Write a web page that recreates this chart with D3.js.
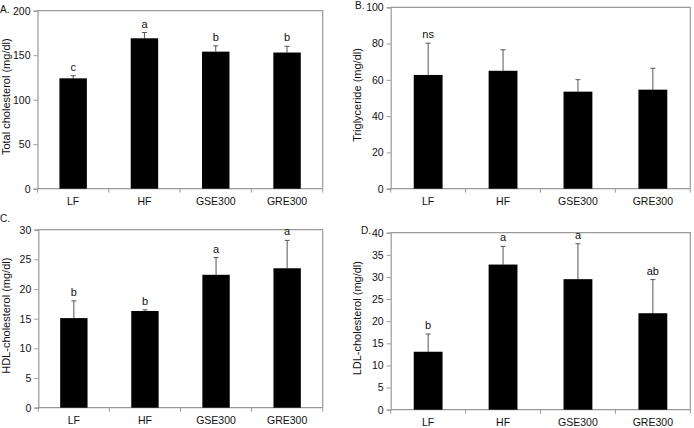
<!DOCTYPE html>
<html>
<head>
<meta charset="utf-8">
<script src="https://cdn.jsdelivr.net/npm/d3@7"></script>
<style>
  html, body { margin: 0; padding: 0; background: #fff; }
  svg { display: block; font-family: "Liberation Sans", Arial, sans-serif; }
</style>
</head>
<body>
<svg id="chart" width="694" height="428"></svg>
<script>
// ---- data ----
const categories = ["LF", "HF", "GSE300", "GRE300"];

const totalChol    = [124, 169, 154, 153];
const totalCholErr = [3, 6.5, 6.5, 7];
const totalCholSig = ["c", "a", "b", "b"];
const totalCholTicks = [0, 50, 100, 150, 200];

const trig    = [62.7, 65, 53.5, 54.6];
const trigErr = [17.5, 11.6, 6.6, 11.8];
const trigSig = ["ns", "", "", ""];
const trigTicks = [0, 20, 40, 60, 80, 100];

const hdl    = [15.1, 16.3, 22.4, 23.5];
const hdlErr = [2.9, 0.2, 2.9, 4.7];
const hdlSig = ["b", "b", "a", "a"];
const hdlTicks = [0, 5, 10, 15, 20, 25, 30];

const ldl    = [13.1, 32.8, 29.5, 21.8];
const ldlErr = [4, 4.1, 8, 7.6];
const ldlSig = ["b", "a", "a", "ab"];
const ldlTicks = [0, 5, 10, 15, 20, 25, 30, 35, 40];

// ---- layout ----
const panels = [
  { tag: "A.", title: "Total cholesterol (mg/dl)", values: totalChol, errs: totalCholErr, sig: totalCholSig, ticks: totalCholTicks,
    x0: 37.5, x1: 322.7, yTop: 10.7, yBot: 188.7, tagX: 0, tagY: 13, titleX: 9.5 },
  { tag: "B.", title: "Triglyceride (mg/dl)", values: trig, errs: trigErr, sig: trigSig, ticks: trigTicks,
    x0: 390.7, x1: 690.3, yTop: 7.3, yBot: 188.7, tagX: 355, tagY: 9, titleX: 361 },
  { tag: "C.", title: "HDL-cholesterol (mg/dl)", values: hdl, errs: hdlErr, sig: hdlSig, ticks: hdlTicks,
    x0: 38.3, x1: 322.7, yTop: 229.7, yBot: 407.7, tagX: 0, tagY: 222, titleX: 9.5 },
  { tag: "D.", title: "LDL-cholesterol (mg/dl)", values: ldl, errs: ldlErr, sig: ldlSig, ticks: ldlTicks,
    x0: 390.7, x1: 690.3, yTop: 232.7, yBot: 409.7, tagX: 361, tagY: 234, titleX: 361 }
];

const svg = d3.select("#chart");
const gray = "#9a9a9a";

panels.forEach(p => {
  const g = svg.append("g");
  const x = d3.scaleBand().domain(categories).range([p.x0, p.x1]).paddingInner(0.615).paddingOuter(0.3075);
  const y = d3.scaleLinear().domain([0, d3.max(p.ticks)]).range([p.yBot, p.yTop]);

  // frame (top, right)
  g.append("path")
    .attr("d", `M${p.x0},${p.yTop}H${p.x1}V${p.yBot}`)
    .attr("fill", "none").attr("stroke", gray).attr("stroke-width", 1.2);

  // y axis
  const yAxis = d3.axisLeft(y).tickValues(p.ticks).tickSize(4).tickPadding(3).tickFormat(d3.format("d"));
  const ya = g.append("g").attr("transform", `translate(${p.x0},0)`).call(yAxis);
  ya.select(".domain").attr("stroke", gray).attr("stroke-width", 1.2);
  ya.selectAll(".tick line").attr("stroke", gray);
  ya.selectAll(".tick text").attr("fill", "#111").style("font-size", "10.5px")
    .style("font-family", "'Liberation Sans', Arial, sans-serif");

  // x axis with ticks at band boundaries
  const xa = g.append("g").attr("transform", `translate(0,${p.yBot})`);
  xa.append("line").attr("x1", p.x0).attr("x2", p.x1).attr("y1", 0).attr("y2", 0)
    .attr("stroke", gray).attr("stroke-width", 1.2);
  const step = x.step();
  const bounds = d3.range(categories.length + 1).map(i => p.x0 + i * step);
  xa.selectAll("line.bt").data(bounds).join("line").attr("class", "bt")
    .attr("x1", d => d).attr("x2", d => d).attr("y1", 0).attr("y2", 4)
    .attr("stroke", gray);
  xa.selectAll("text").data(categories).join("text")
    .attr("x", d => x(d) + x.bandwidth() / 2).attr("y", 16)
    .attr("text-anchor", "middle").attr("fill", "#111").style("font-size", "10.5px")
    .text(d => d);

  const data = categories.map((c, i) => ({ c, v: p.values[i], e: p.errs[i], s: p.sig[i] }));

  // error bars (upper only)
  g.selectAll("line.eb").data(data).join("line").attr("class", "eb")
    .attr("x1", d => x(d.c) + x.bandwidth() / 2).attr("x2", d => x(d.c) + x.bandwidth() / 2)
    .attr("y1", d => y(d.v)).attr("y2", d => y(d.v + d.e))
    .attr("stroke", "#555").attr("stroke-width", 1);
  g.selectAll("line.cap").data(data).join("line").attr("class", "cap")
    .attr("x1", d => x(d.c) + x.bandwidth() / 2 - 2.5).attr("x2", d => x(d.c) + x.bandwidth() / 2 + 2.5)
    .attr("y1", d => y(d.v + d.e)).attr("y2", d => y(d.v + d.e))
    .attr("stroke", "#555").attr("stroke-width", 1);

  // bars
  g.selectAll("rect.bar").data(data).join("rect").attr("class", "bar")
    .attr("x", d => x(d.c)).attr("width", x.bandwidth())
    .attr("y", d => y(d.v)).attr("height", d => y(0) - y(d.v))
    .attr("fill", "#000");

  // significance letters
  g.selectAll("text.sig").data(data).join("text").attr("class", "sig")
    .attr("x", d => x(d.c) + x.bandwidth() / 2).attr("y", d => y(d.v + d.e) - 5)
    .attr("text-anchor", "middle").attr("fill", "#111").style("font-size", "11px")
    .text(d => d.s);

  // panel tag
  g.append("text").attr("x", p.tagX).attr("y", p.tagY).attr("fill", "#111")
    .style("font-size", "10px").text(p.tag);

  // y title
  const cy = (p.yTop + p.yBot) / 2 - 3;
  g.append("text").attr("transform", `translate(${p.titleX},${cy}) rotate(-90)`)
    .attr("text-anchor", "middle").attr("fill", "#111").style("font-size", "11px")
    .text(p.title);
});
</script>
</body>
</html>
